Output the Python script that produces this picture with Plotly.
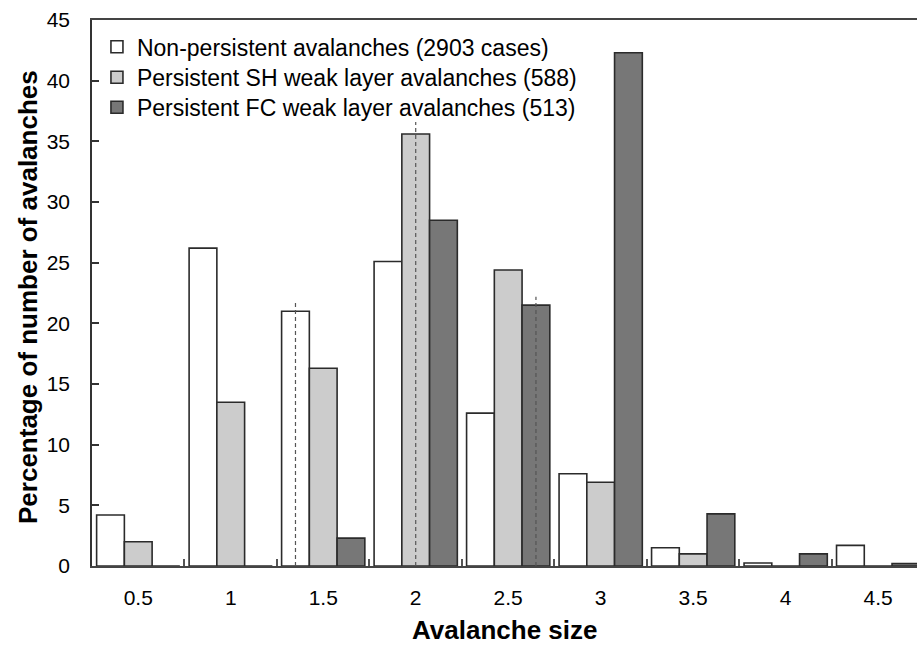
import plotly.graph_objects as go

# ---- data ----
sizes = ["0.5", "1", "1.5", "2", "2.5", "3", "3.5", "4", "4.5"]
non_persistent = [4.2, 26.2, 21.0, 25.1, 12.6, 7.6, 1.5, 0.25, 1.7]
persistent_sh = [2.0, 13.5, 16.3, 35.6, 24.4, 6.9, 1.0, 0, 0]
persistent_fc = [0, 0, 2.3, 28.5, 21.5, 42.3, 4.3, 1.0, 0.2]
series_names = [
    "Non-persistent avalanches (2903 cases)",
    "Persistent SH weak layer avalanches (588)",
    "Persistent FC weak layer avalanches (513)",
]
# median size of each series (dashed lines) and the height the dashed line reaches
median_sizes = ["1.5", "2", "2.5"]
median_line_top = [21.7, 36.6, 22.2]
x_title = "Avalanche size"
y_title = "Percentage of number of avalanches"

# ---- style ----
fills = ["#ffffff", "#cccccc", "#777777"]
edge = "#2b2b2b"
FONT = "Liberation Sans"
bar_w = 0.3
offsets = [-0.45, -0.15, 0.15]
legend_ids = ["legend", "legend2", "legend3"]
legend_y = [0.951, 0.895, 0.840]

idx = list(range(len(sizes)))
fig = go.Figure()
for name, vals, fill, off, lg in zip(series_names,
                                     [non_persistent, persistent_sh, persistent_fc],
                                     fills, offsets, legend_ids):
    fig.add_trace(go.Bar(
        x=idx, y=vals, name=name, width=bar_w, offset=off, legend=lg,
        marker=dict(color=fill, line=dict(color=edge, width=1.6)),
    ))

for s, top, off in zip(median_sizes, median_line_top, offsets):
    xc = sizes.index(s) + off + bar_w / 2
    fig.add_trace(go.Scatter(
        x=[xc, xc], y=[0, top], mode="lines", showlegend=False, hoverinfo="skip",
        line=dict(color="#555555", width=1.2, dash="4px,3px"),
    ))

legend_common = dict(x=0.006, xanchor="left", yanchor="middle",
                     bgcolor="rgba(0,0,0,0)",
                     font=dict(size=23, family=FONT, color="black"),
                     itemclick=False, itemdoubleclick=False)

fig.update_layout(
    width=917, height=648,
    margin=dict(l=92, r=0, t=20, b=82),
    paper_bgcolor="white", plot_bgcolor="white",
    barmode="overlay",
    font=dict(family=FONT, color="black", size=21),
    legend=dict(y=legend_y[0], **legend_common),
    legend2=dict(y=legend_y[1], **legend_common),
    legend3=dict(y=legend_y[2], **legend_common),
    showlegend=True,
)

fig.add_annotation(
    text=x_title, xref="paper", yref="paper", x=0.5, y=(566 - 630) / 546,
    xanchor="center", yanchor="middle", showarrow=False,
    font=dict(size=26, family=FONT, color="black", weight="bold"),
)
fig.add_annotation(
    text=y_title, xref="paper", yref="paper", x=(28 - 92) / 825, y=(566 - 297) / 546,
    xanchor="center", yanchor="middle", showarrow=False, textangle=-90,
    font=dict(size=26, family=FONT, color="black", weight="bold"),
)

fig.update_xaxes(
    range=[-0.5, 8.42],
    tickmode="array", tickvals=idx, ticktext=sizes,
    ticks="", ticklabelstandoff=12,
    tickfont=dict(size=21, family=FONT, color="black"),
    showline=True, linecolor="#444444", linewidth=2, mirror=True,
    showgrid=False, zeroline=False,
    minor=dict(tickmode="array", tickvals=[i + 0.5 for i in idx[:-1]],
               ticks="inside", ticklen=7, tickwidth=2, tickcolor="#555555",
               showgrid=False),
)
fig.update_yaxes(
    range=[0, 45], tickmode="linear", tick0=0, dtick=5,
    ticks="inside", ticklen=7, tickwidth=1.5, tickcolor="#333333",
    ticklabelstandoff=16,
    tickfont=dict(size=21, family=FONT, color="black"),
    showline=True, linecolor="#333333", linewidth=1.5,
    showgrid=False, zeroline=False,
)

fig.write_html("out.html")
